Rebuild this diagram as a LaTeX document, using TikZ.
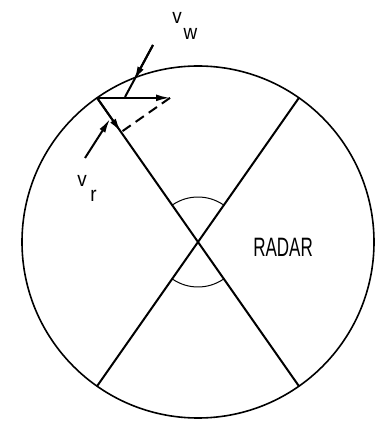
\documentclass[tikz,border=0pt]{standalone}
\usepackage{fontspec}
\setmainfont{Liberation Sans}
\usetikzlibrary{positioning, arrows.meta, calc}

\begin{document}
\begin{tikzpicture}[x=0.5pt,y=0.5pt,
  rim/.style={line width=0.8pt},
  beam/.style={line width=1pt},
  sector/.style={line width=0.5pt},
  vec/.style={line width=1pt, -{Latex[length=7pt,width=3.4pt]}},
  proj/.style={line width=1pt, dash pattern=on 5pt off 3pt},
  lbl/.style={font=\fontsize{10.5}{12}\selectfont, inner sep=0pt, anchor=base west,
              transform shape, xscale=0.9}]

  \useasboundingbox (0,0) rectangle (380,424);

  %% Radar circle
  \coordinate (c) at (198,182);
  \draw[rim] (c) circle (176);

  %% Beam edges through the centre
  \coordinate (ul) at ($(c)+(125:176)$);
  \coordinate (lr) at ($(c)+(305:176)$);
  \coordinate (ur) at ($(c)+(55:176)$);
  \coordinate (ll) at ($(c)+(235:176)$);
  \draw[beam] (ul) -- (lr);
  \draw[beam] (ll) -- (ur);

  %% Sector arcs
  \draw[sector] ($(c)+(55:45)$) arc[start angle=55, end angle=125, radius=45];
  \draw[sector] ($(c)+(235:45)$) arc[start angle=235, end angle=305, radius=45];

  %% Wind vector and its radial component
  \coordinate (tip) at ($(ul)+(73,0)$);
  \coordinate (foot) at ($(ul)!(tip)!(lr)$);
  \draw[vec] (ul) -- (tip);
  \draw[vec] (ul) -- (foot);
  \draw[proj] (tip) -- (foot);

  \coordinate (w1) at (153,379);
  \coordinate (w2) at (125,327);
  \draw[beam] (w1) -- (w2);
  \draw[vec] (w1) -- ($(w1)!0.68!(w2)$);

  \coordinate (r1) at (85,266);
  \coordinate (r2) at (110,305);
  \draw[vec] (r1) -- (r2);

  %% Labels
  \node[lbl] (vw) at (172,400) {v\hspace{1pt}\raisebox{-8pt}{w}};
  \node[lbl] (vr) at (77,237) {v\hspace{2pt}\raisebox{-7.5pt}{r}};
  \node[lbl, font=\fontsize{13.3}{15}\selectfont, xscale=0.64/0.9] (radar) at (253,167) {RADAR};
\end{tikzpicture}
\end{document}
